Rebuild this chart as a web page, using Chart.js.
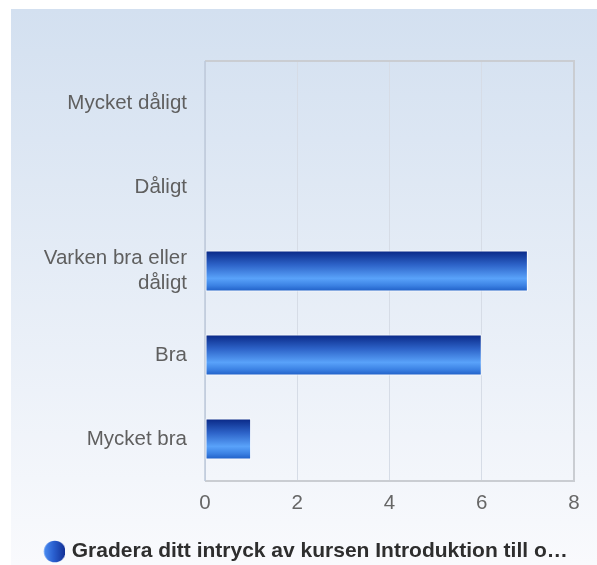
<!DOCTYPE html>
<html>
<head>
<meta charset="utf-8">
<script src="https://cdn.jsdelivr.net/npm/chart.js@4/dist/chart.umd.min.js"></script>
<style>
  html, body { margin: 0; padding: 0; background: #ffffff; }
  #wrap { width: 597px; height: 565px; position: relative; }
</style>
</head>
<body>
<div id="wrap"><canvas id="c" width="597" height="565"></canvas></div>
<script>
const categories = ['Mycket dåligt', 'Dåligt', ['Varken bra eller', 'dåligt'], 'Bra', 'Mycket bra'];
const seriesValues = [0, 0, 7, 6, 1];
const seriesLabel = 'Gradera ditt intryck av kursen Introduktion till o…';
const xTicks = [0, 2, 4, 6, 8];

const FONT = '"Liberation Sans", Arial, Helvetica, sans-serif';

const panelPlugin = {
  id: 'panel',
  beforeDraw(chart) {
    const ctx = chart.ctx;
    ctx.save();
    ctx.fillStyle = '#ffffff';
    ctx.fillRect(0, 0, chart.width, chart.height);
    const g = ctx.createLinearGradient(0, 9, 0, chart.height);
    g.addColorStop(0, '#d3e0f0');
    g.addColorStop(1, '#f9fafd');
    ctx.fillStyle = g;
    ctx.fillRect(11, 9, chart.width - 11, chart.height - 9);
    ctx.restore();
  },
  beforeDatasetsDraw(chart) {
    const a = chart.chartArea;
    const ctx = chart.ctx;
    ctx.save();
    ctx.strokeStyle = '#cacdd2';
    ctx.lineWidth = 2;
    ctx.beginPath();
    ctx.moveTo(a.left, a.top);
    ctx.lineTo(a.right, a.top);
    ctx.lineTo(a.right, a.bottom);
    ctx.lineTo(a.left, a.bottom);
    ctx.stroke();
    ctx.strokeStyle = '#bcc8da';
    ctx.lineWidth = 1.5;
    ctx.beginPath();
    ctx.moveTo(a.left, a.top);
    ctx.lineTo(a.left, a.bottom);
    ctx.stroke();
    ctx.restore();
  }
};

function barGradient(c) {
  const chart = c.chart;
  const area = chart.chartArea;
  if (!area || !chart.scales.y) return '#2a66d0';
  const center = chart.scales.y.getPixelForValue(c.dataIndex);
  const band = (area.bottom - area.top) / categories.length;
  const h = band * 0.49;
  const g = chart.ctx.createLinearGradient(0, center - h / 2, 0, center + h / 2);
  g.addColorStop(0, '#082684');
  g.addColorStop(0.35, '#2d63c8');
  g.addColorStop(0.68, '#59a2fa');
  g.addColorStop(0.85, '#3c82e4');
  g.addColorStop(1, '#1d5cc4');
  return g;
}

// legend marker: gradient circle, offset slightly right within its image
function legendMarker() {
  const cv = document.createElement('canvas');
  cv.width = 29; cv.height = 23;
  const x = cv.getContext('2d');
  const cx = 18.5, cy = 11.5, r = 10.8;
  const g = x.createLinearGradient(cx - r, 0, cx + r, 0);
  g.addColorStop(0, '#4a8cf2');
  g.addColorStop(0.45, '#2a5fcf');
  g.addColorStop(1, '#112e94');
  x.fillStyle = g;
  x.beginPath();
  x.arc(cx, cy, r, 0, Math.PI * 2);
  x.fill();
  return cv;
}
const marker = legendMarker();

const ctx = document.getElementById('c').getContext('2d');
new Chart(ctx, {
  type: 'bar',
  data: {
    labels: categories,
    datasets: [{
      label: seriesLabel,
      data: seriesValues,
      backgroundColor: barGradient,
      borderColor: '#ffffff',
      borderWidth: 1,
      borderSkipped: false,
      barPercentage: 0.49,
      categoryPercentage: 1
    }]
  },
  options: {
    indexAxis: 'y',
    responsive: false,
    animation: false,
    devicePixelRatio: 1,
    layout: { padding: { left: 11, top: 61, right: 0, bottom: -7 } },
    scales: {
      x: {
        min: xTicks[0],
        max: xTicks[xTicks.length - 1],
        afterBuildTicks(scale) { scale.ticks = xTicks.map(v => ({ value: v })); },
        afterFit(scale) { scale.height = 50; },
        ticks: {
          font: { family: FONT, size: 20.5 },
          color: '#666666',
          padding: 10
        },
        grid: { color: '#d6dce6', lineWidth: 1, drawTicks: false },
        border: { display: false }
      },
      y: {
        afterFit(scale) { scale.width = 194; },
        ticks: {
          font: { family: FONT, size: 20.5 },
          color: '#5f5f5f',
          padding: 10
        },
        grid: { display: false },
        border: { display: false }
      },
      yRight: {
        axis: 'y',
        type: 'category',
        position: 'right',
        labels: categories.map(() => ''),
        afterFit(scale) { scale.width = 23; },
        ticks: { display: false },
        grid: { display: false },
        border: { display: false }
      }
    },
    plugins: {
      legend: {
        position: 'bottom',
        labels: {
          usePointStyle: true,
          boxHeight: 15,
          pointStyleWidth: 21,
          padding: 10,
          color: '#2e2e2e',
          font: { family: FONT, size: 21, weight: 'bold' },
          generateLabels(chart) {
            return chart.data.datasets.map((ds, i) => ({
              text: ds.label,
              fillStyle: '#2a5fcf',
              strokeStyle: 'rgba(0,0,0,0)',
              lineWidth: 0,
              pointStyle: marker,
              hidden: false,
              datasetIndex: i,
              fontColor: '#2e2e2e'
            }));
          }
        }
      },
      tooltip: { enabled: false }
    }
  },
  plugins: [panelPlugin]
});
</script>
</body>
</html>
